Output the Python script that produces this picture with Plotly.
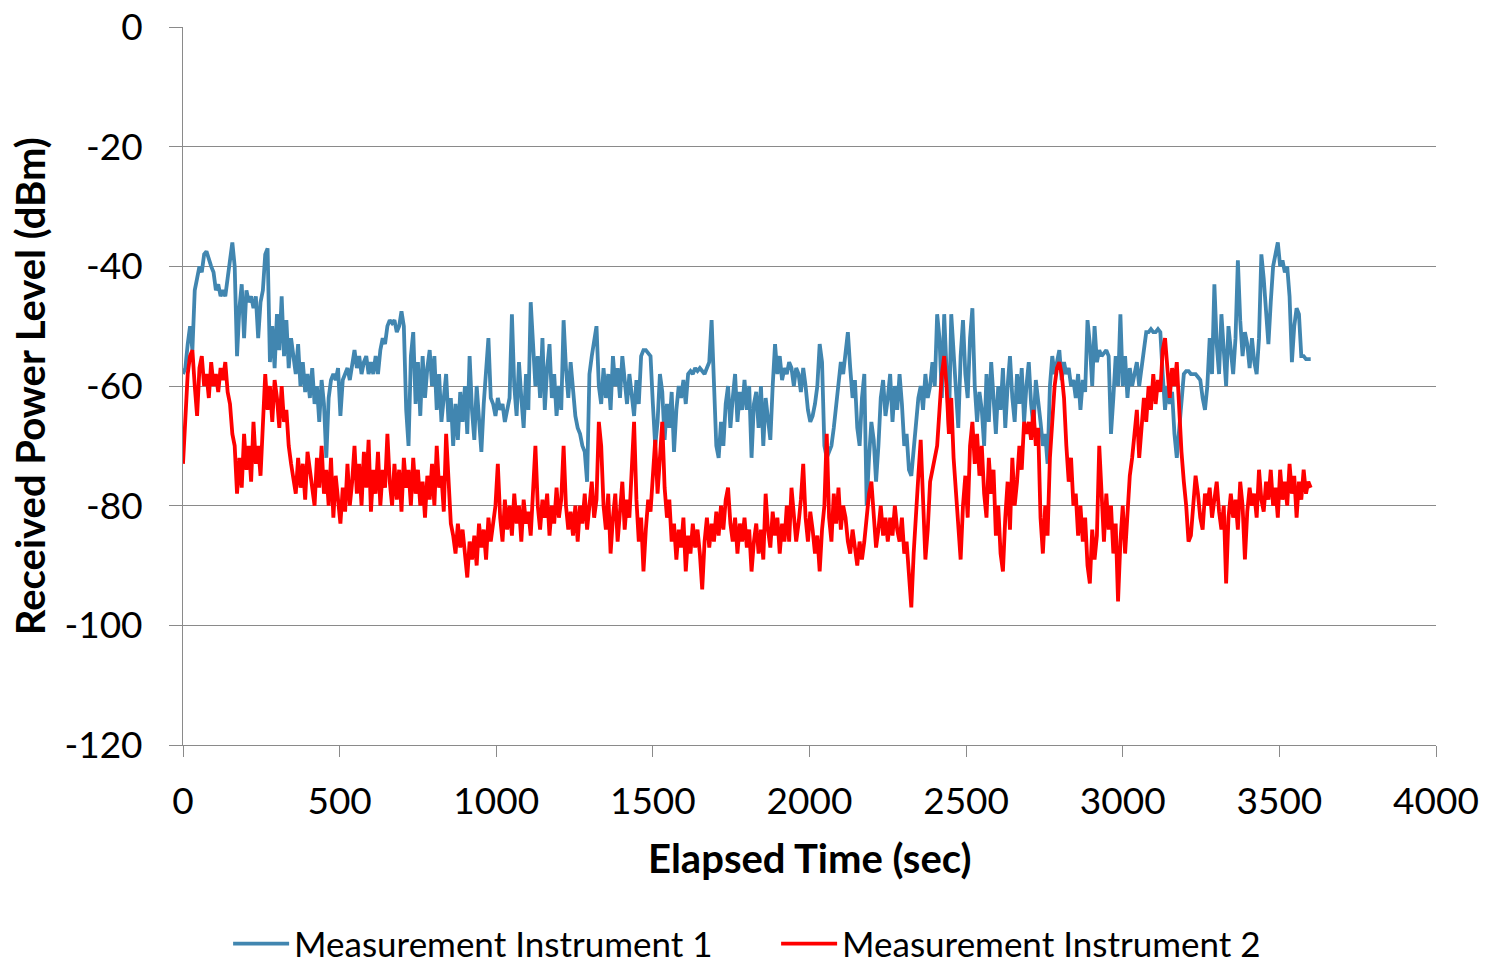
import plotly.graph_objects as go

STEP = 7.5
time_s = [i * STEP for i in range(481)]

inst1 = [
    -58, -57, -53, -50, -54, -44, -42, -40, -41, -38, -37.5, -39, -40, -41, -44, -43, -45, -44, -45, -42,
    -39, -36, -40, -55, -47, -43, -52, -44, -46, -45, -47, -45, -52, -46, -44, -38, -37, -56, -50, -57,
    -48, -54, -45, -55, -49, -57, -52, -55, -58, -53, -60, -56, -61, -58, -62, -57, -63, -60, -66, -59,
    -63, -72, -62, -59, -58, -59, -57, -65, -59, -58, -57, -59, -56, -54, -57, -55, -58, -56, -55, -58,
    -56, -58, -55, -58, -54, -52, -53, -50, -49, -49.5, -49, -51, -50, -47.5, -50, -64, -70, -55, -51, -63,
    -56, -65, -55, -62, -57, -54, -60, -55, -64, -58, -66, -61, -58, -66, -62, -70, -63, -69, -61, -66,
    -60, -68, -55, -64, -69, -60, -65, -71, -63, -58, -52, -62, -63, -65, -62, -64, -63, -66, -64, -62,
    -48, -60, -65, -56, -62, -67, -58, -64, -46, -52, -60, -55, -62, -52, -64, -57, -53, -62, -58, -65,
    -60, -64, -49, -57, -62, -56, -60, -65, -67, -68, -70, -71, -76, -58, -55, -52, -50, -60, -63, -57,
    -62, -58, -64, -55, -60, -57, -62, -55, -59, -63, -58, -61, -65, -59, -63, -55, -54, -54, -54.5, -55,
    -63, -70, -66, -58, -61, -69, -63, -67, -61, -71, -64, -60, -62, -59, -63, -58, -57.5, -58, -57, -57.5,
    -57, -57.5, -58, -57, -56, -49, -58, -70, -72, -66, -70, -63, -60, -67, -62, -58, -66, -61, -64, -59,
    -64, -60, -72, -63, -61, -67, -60, -70, -62, -66, -69, -60, -53, -58, -55, -59, -57, -58, -56, -57,
    -60, -57, -58, -61, -57, -60, -64, -66, -65, -63, -60, -53, -56, -70, -72, -71, -70, -67, -63, -60,
    -56, -58, -54, -51, -57, -62, -59, -67, -70, -62, -58, -80, -72, -66, -69, -76, -70, -62, -59, -65,
    -62, -58, -66, -60, -64, -58, -63, -70, -68, -74, -75, -71, -66, -62, -60, -64, -58, -62, -60, -56,
    -60, -48, -52, -62, -48, -58, -67, -48, -55, -62, -67, -55, -49, -58, -62, -52, -47, -60, -66, -61,
    -64, -70, -58, -66, -56, -62, -68, -60, -64, -57, -67, -60, -55, -62, -66, -58, -63, -57, -66, -60,
    -56, -63, -67, -59, -62, -66, -70, -68, -73, -60, -55, -58, -56, -54, -59, -56, -58, -57, -60, -59,
    -62, -58, -64, -59, -61, -49, -53, -60, -50, -56, -54, -55, -54.5, -54, -55, -68, -62, -55, -60, -48,
    -60, -55, -62, -57, -60, -58, -56, -60, -57, -55, -51, -51, -50.5, -51, -51, -50.5, -51, -58, -64, -60,
    -63, -61, -68, -72, -67, -63, -58, -57.5, -57.5, -58, -58, -58, -58.5, -59, -62, -64, -60, -52, -58, -43,
    -53, -58, -48, -55, -60, -50, -55, -58, -52, -39, -49, -55, -51, -53, -57, -52, -56, -58, -52, -38,
    -42, -48, -53, -46, -40, -38, -36, -40, -39, -41, -40, -45, -56, -50, -47, -48, -55, -55, -55.5, -55.5,
    -55.5,
]

inst2 = [
    -73, -64, -58, -55, -54, -60, -65, -57, -55, -60, -58, -62, -56, -60, -58, -61, -57, -59, -56, -61,
    -63, -68, -70, -78, -72, -77, -68, -74, -70, -76, -66, -73, -70, -75, -66, -58, -64, -60, -66, -59,
    -62, -67, -60, -66, -64, -70, -73, -76, -78, -72, -77, -73, -79, -71, -74, -78, -80, -72, -77, -70,
    -78, -74, -80, -72, -82, -75, -79, -83, -77, -81, -73, -80, -76, -70, -78, -73, -80, -71, -77, -69,
    -81, -74, -78, -71, -80, -74, -77, -68, -76, -80, -73, -79, -74, -81, -72, -77, -74, -80, -72, -78,
    -74, -80, -76, -82, -75, -79, -73, -80, -70, -77, -75, -81, -68, -76, -83, -85, -88, -83, -87, -84,
    -88, -92, -86, -89, -85, -90, -83, -87, -84, -89, -82, -86, -83, -80, -73, -82, -86, -79, -84, -80,
    -85, -78, -83, -80, -86, -79, -83, -81, -85, -78, -70, -80, -84, -79, -82, -78, -85, -80, -83, -77,
    -82, -79, -70, -80, -84, -81, -85, -80, -86, -80, -83, -78, -84, -80, -76, -82, -79, -66, -70, -80,
    -84, -78, -88, -82, -78, -86, -80, -76, -84, -79, -82, -74, -66, -79, -86, -82, -91, -84, -79, -81,
    -74, -69, -78, -72, -66, -77, -82, -79, -86, -83, -89, -84, -87, -82, -91, -85, -88, -83, -87, -84,
    -88, -94, -86, -82, -87, -83, -86, -81, -85, -80, -84, -79, -77, -83, -86, -82, -88, -83, -86, -82,
    -87, -84, -91, -86, -83, -88, -84, -89, -78, -84, -87, -81, -85, -82, -88, -83, -86, -80, -86, -77,
    -82, -86, -83, -79, -73, -82, -86, -81, -84, -88, -85, -91, -84, -80, -68, -82, -86, -78, -83, -77,
    -84, -80, -82, -86, -88, -84, -87, -90, -86, -89, -86, -82, -78, -76, -82, -87, -84, -80, -85, -82,
    -86, -82, -85, -80, -84, -86, -82, -88, -86, -92, -97, -88, -80, -75, -69, -80, -89, -84, -76, -74,
    -72, -70, -64, -58, -55, -60, -68, -62, -72, -78, -85, -89, -80, -75, -82, -70, -66, -73, -68, -75,
    -70, -78, -82, -72, -78, -74, -85, -80, -88, -91, -82, -76, -84, -72, -80, -76, -70, -74, -66, -68,
    -66, -69, -64, -70, -67, -82, -88, -80, -85, -72, -66, -60, -57, -56, -58, -62, -70, -76, -72, -80,
    -78, -85, -80, -86, -82, -90, -93, -84, -89, -85, -70, -80, -86, -78, -84, -80, -88, -83, -96, -86,
    -80, -88, -82, -75, -72, -68, -64, -72, -67, -62, -66, -60, -64, -58, -63, -59, -61, -54, -52, -58,
    -62, -57, -60, -56, -64, -71, -76, -80, -86, -85, -80, -75, -78, -82, -84, -78, -80, -77, -82, -79,
    -76, -81, -84, -80, -93, -82, -78, -82, -79, -84, -76, -80, -89, -81, -77, -80, -78, -82, -74, -79,
    -81, -76, -79, -74, -80, -77, -82, -74, -79, -76, -80, -73, -78, -75, -82, -76, -79, -74, -78, -76,
    -77,
]

series_names = ["Measurement Instrument 1", "Measurement Instrument 2"]
x_ticks = [0, 500, 1000, 1500, 2000, 2500, 3000, 3500, 4000]
y_ticks = [0, -20, -40, -60, -80, -100, -120]

FONT = "Lato, 'Open Sans', sans-serif"
GRID = "#8a8a8a"

fig = go.Figure()
fig.add_trace(go.Scatter(x=time_s, y=inst1, mode="lines", name=series_names[0],
                         line=dict(color="#4186b0", width=3.8)))
fig.add_trace(go.Scatter(x=time_s, y=inst2, mode="lines", name=series_names[1],
                         line=dict(color="#ff0000", width=3.8)))

fig.update_layout(
    width=1483, height=956,
    margin=dict(l=175, r=55, t=19, b=219, autoexpand=False),
    paper_bgcolor="white", plot_bgcolor="white",
    font=dict(family=FONT, size=37, color="#000000"),
    showlegend=True,
    legend=dict(orientation="h", x=0.036, xanchor="left", y=-0.277, yanchor="middle",
                font=dict(size=35), itemwidth=56, entrywidth=477, tracegroupgap=0,
                bgcolor="rgba(0,0,0,0)"),
    xaxis=dict(range=[0, 4000], tickvals=x_ticks, ticktext=[str(v) for v in x_ticks],
               showgrid=False, zeroline=False, showline=True, linecolor=GRID, linewidth=1,
               ticks="outside", ticklen=11, tickcolor=GRID, tickwidth=1,
               tickfont=dict(size=37), ticklabelstandoff=13, automargin=False,
               ticklabeloverflow="allow"),
    yaxis=dict(range=[-120, 0], tickvals=y_ticks, ticktext=[str(v) for v in y_ticks],
               showgrid=True, gridcolor=GRID, gridwidth=1, zeroline=False,
               showline=True, linecolor=GRID, linewidth=1,
               ticks="outside", ticklen=13, tickcolor=GRID, tickwidth=1,
               tickfont=dict(size=37), ticklabelstandoff=19, automargin=False,
               ticklabeloverflow="allow"),
    annotations=[
        dict(text="<b>Elapsed Time (sec)</b>", xref="paper", yref="paper",
             x=0.5, y=-0.158, xanchor="center", yanchor="middle", showarrow=False,
             font=dict(size=40, family=FONT)),
        dict(text="<b>Received Power Level (dBm)</b>", xref="paper", yref="paper",
             x=-0.122, y=0.5, xanchor="center", yanchor="middle", showarrow=False,
             textangle=-90, font=dict(size=40, family=FONT)),
    ],
)

fig.write_html("out.html")
